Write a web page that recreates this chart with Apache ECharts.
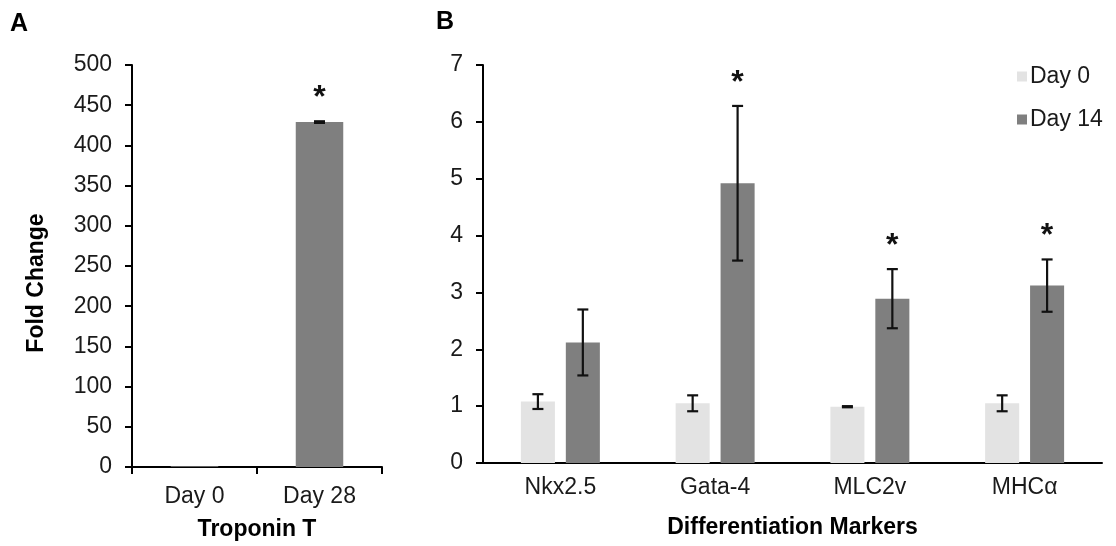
<!DOCTYPE html>
<html>
<head>
<meta charset="utf-8">
<script src="https://cdn.jsdelivr.net/npm/echarts@6/dist/echarts.min.js"></script>
<style>
  html, body { margin: 0; padding: 0; background: #fff; }
  #chart { width: 1116px; height: 546px; }
</style>
</head>
<body>
<div id="chart"></div>
<script>
// Panel A: Troponin T expression
const troponinCats = ['Day 0', 'Day 28'];
const troponinMean = [1, 429];
const troponinErr = [0, 1];
const troponinSig = [false, true];
const troponinTicks = { min: 0, max: 500, interval: 50 };

// Panel B: differentiation markers
const markerCats = ['Nkx2.5', 'Gata-4', 'MLC2v', 'MHCα'];
const day0Mean = [1.08, 1.05, 0.99, 1.05];
const day0Err = [0.13, 0.14, 0.01, 0.14];
const day0Sig = [false, false, false, false];
const day14Mean = [2.12, 4.92, 2.89, 3.12];
const day14Err = [0.58, 1.36, 0.52, 0.46];
const day14Sig = [false, true, true, true];
const markerTicks = { min: 0, max: 7, interval: 1 };

const FONT = 'Liberation Sans, Arial, Helvetica, sans-serif';
const LIGHT = '#e3e3e3';
const DARK = '#7f7f7f';
const INK = '#1a1a1a';

const B_BAR = 0.22;   // bar width as share of a category band
const B_GAP = 0.32;   // gap between paired bars as share of bar width

// Error bars (with optional significance star) drawn at a bar's centre.
// shift: -1 / 0 / +1 picks the left, single or right bar in a band.
function errorBars(shift, barShare, gapShare) {
  return function (params, api) {
    const x = api.value(0);
    const mean = api.value(1);
    const err = api.value(2);
    const sig = api.value(3);
    const band = api.size([1, 0])[0];
    const bw = band * barShare;
    const dx = shift * (bw + bw * gapShare) / 2;
    const hi = api.coord([x, mean + err]);
    const lo = api.coord([x, mean - err]);
    const cx = hi[0] + dx;
    const cap = 5.5;
    const ls = { stroke: '#111', lineWidth: 2.2 };
    const children = [];
    if (err > 0) {
      children.push(
        { type: 'line', shape: { x1: cx, y1: hi[1], x2: cx, y2: lo[1] }, style: ls },
        { type: 'line', shape: { x1: cx - cap, y1: hi[1], x2: cx + cap, y2: hi[1] }, style: ls },
        { type: 'line', shape: { x1: cx - cap, y1: lo[1], x2: cx + cap, y2: lo[1] }, style: ls }
      );
    }
    if (sig) {
      children.push({
        type: 'text',
        style: {
          text: '*', x: cx, y: hi[1] - 23,
          align: 'center', verticalAlign: 'middle',
          font: 'bold 32px ' + FONT, fill: '#111'
        }
      });
    }
    return { type: 'group', children: children };
  };
}

function errData(mean, err, sig) {
  return mean.map((m, i) => [i, m, err[i], sig[i] ? 1 : 0]);
}

const axisLine = { show: true, lineStyle: { color: '#000', width: 2 } };
const tickStyle = { show: true, length: 7, lineStyle: { color: '#000', width: 2 } };
const labelStyle = { color: INK, fontSize: 23, fontFamily: FONT };
const nameStyle = { color: '#000', fontSize: 23, fontWeight: 'bold', fontFamily: FONT };

const option = {
  animation: false,
  backgroundColor: '#fff',
  grid: [
    { left: 132, top: 65, width: 250, height: 402 },
    { left: 483, top: 65, width: 619, height: 398 }
  ],
  legend: {
    orient: 'vertical',
    left: 1012, top: 60,
    itemWidth: 10, itemHeight: 10, itemGap: 20,
    icon: 'rect',
    textStyle: { color: INK, fontSize: 23, fontFamily: FONT, padding: [0, 0, 0, -2] },
    data: ['Day 0', 'Day 14']
  },
  xAxis: [
    {
      type: 'category', gridIndex: 0, data: troponinCats,
      axisLine: axisLine,
      axisTick: { show: true, length: 7, alignWithLabel: false, lineStyle: { color: '#000', width: 2 } },
      axisLabel: Object.assign({ margin: 18 }, labelStyle),
      name: 'Troponin T', nameLocation: 'middle', nameGap: 51, nameTextStyle: nameStyle
    },
    {
      type: 'category', gridIndex: 1, data: markerCats,
      axisLine: axisLine,
      axisTick: { show: false },
      axisLabel: Object.assign({ margin: 13 }, labelStyle),
      name: 'Differentiation Markers', nameLocation: 'middle', nameGap: 53, nameTextStyle: nameStyle
    }
  ],
  yAxis: [
    {
      type: 'value', gridIndex: 0,
      min: troponinTicks.min, max: troponinTicks.max, interval: troponinTicks.interval,
      axisLine: axisLine, axisTick: tickStyle,
      axisLabel: Object.assign({ margin: 20 }, labelStyle),
      splitLine: { show: false }
    },
    {
      type: 'value', gridIndex: 1,
      min: markerTicks.min, max: markerTicks.max, interval: markerTicks.interval,
      axisLine: axisLine, axisTick: tickStyle,
      axisLabel: Object.assign({ margin: 20 }, labelStyle),
      splitLine: { show: false }
    }
  ],
  graphic: [
    { type: 'text', left: 10, top: 12, style: { text: 'A', font: 'bold 25px ' + FONT, fill: '#000' } },
    { type: 'text', left: 436, top: 10, style: { text: 'B', font: 'bold 25px ' + FONT, fill: '#000' } },
    {
      type: 'text', x: 37, y: 283, rotation: Math.PI / 2,
      style: { text: 'Fold Change', font: 'bold 23px ' + FONT, fill: '#000', align: 'center', verticalAlign: 'middle' }
    }
  ],
  series: [
    {
      type: 'bar', name: 'Troponin T', xAxisIndex: 0, yAxisIndex: 0,
      data: troponinMean, barWidth: '38%',
      itemStyle: { color: DARK }
    },
    {
      type: 'custom', xAxisIndex: 0, yAxisIndex: 0, z: 5,
      renderItem: errorBars(0, 0.38, 0),
      data: errData(troponinMean, troponinErr, troponinSig)
    },
    {
      type: 'bar', name: 'Day 0', xAxisIndex: 1, yAxisIndex: 1,
      data: day0Mean, barWidth: (B_BAR * 100) + '%', barGap: (B_GAP * 100) + '%',
      itemStyle: { color: LIGHT }
    },
    {
      type: 'bar', name: 'Day 14', xAxisIndex: 1, yAxisIndex: 1,
      data: day14Mean, barWidth: (B_BAR * 100) + '%', barGap: (B_GAP * 100) + '%',
      itemStyle: { color: DARK }
    },
    {
      type: 'custom', xAxisIndex: 1, yAxisIndex: 1, z: 5,
      renderItem: errorBars(-1, B_BAR, B_GAP),
      data: errData(day0Mean, day0Err, day0Sig)
    },
    {
      type: 'custom', xAxisIndex: 1, yAxisIndex: 1, z: 5,
      renderItem: errorBars(1, B_BAR, B_GAP),
      data: errData(day14Mean, day14Err, day14Sig)
    }
  ]
};

const chart = echarts.init(document.getElementById('chart'), null, { renderer: 'canvas' });
chart.setOption(option);
</script>
</body>
</html>
